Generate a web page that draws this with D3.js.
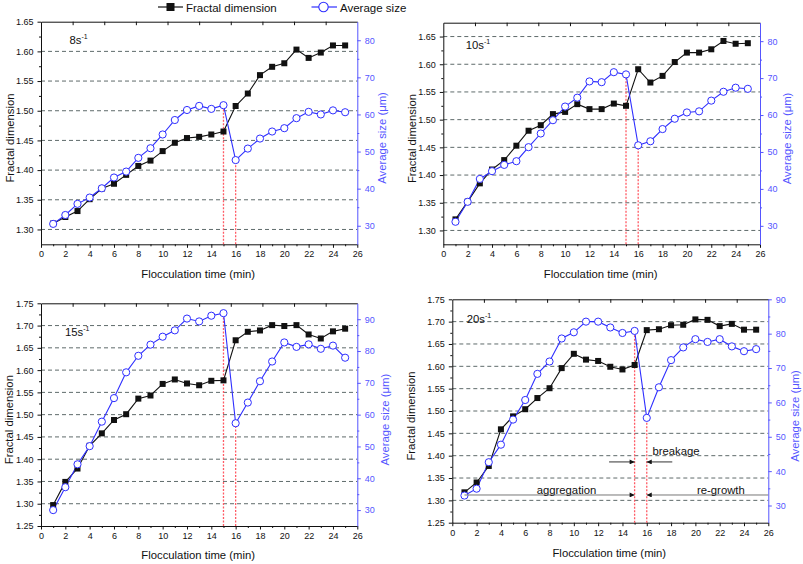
<!DOCTYPE html>
<html><head><meta charset="utf-8">
<script src="https://cdn.jsdelivr.net/npm/d3@7"></script>
<style>
body{margin:0;background:#fff;}
svg text{font-family:"Liberation Sans",Arial,sans-serif;}
</style></head>
<body><svg id="c" width="803" height="564"></svg>
<script>
// ---- data ----
const time = d3.range(1, 26);
const fd8   = [1.310,1.321,1.331,1.351,1.369,1.377,1.392,1.407,1.416,1.432,1.446,1.454,1.456,1.460,1.465,1.508,1.529,1.560,1.574,1.580,1.603,1.589,1.598,1.610,1.610];
const size8 = [30.5,32.9,35.9,37.6,40.1,43.0,44.6,48.3,50.9,54.6,58.5,61.2,62.3,61.5,62.5,47.7,50.8,53.5,55.4,56.3,59.0,60.7,60.0,61.1,60.6];
const fd10   = [1.320,1.352,1.385,1.410,1.427,1.453,1.480,1.490,1.510,1.514,1.528,1.519,1.519,1.529,1.525,1.591,1.567,1.579,1.604,1.621,1.621,1.627,1.642,1.637,1.638];
const size10 = [31.1,36.5,42.7,44.8,46.5,47.5,51.3,55.0,58.6,62.3,64.7,69.1,68.9,71.6,71.0,51.8,52.9,56.2,59.0,60.7,61.0,63.9,66.3,67.4,67.1];
const fd15   = [1.297,1.349,1.379,1.430,1.458,1.488,1.501,1.536,1.543,1.569,1.579,1.570,1.566,1.576,1.577,1.667,1.686,1.689,1.701,1.699,1.701,1.680,1.671,1.687,1.693];
const size15 = [30.0,37.2,44.4,50.1,57.8,65.2,73.3,78.5,82.0,84.5,86.5,90.2,89.3,91.1,91.9,57.3,63.8,70.5,76.7,82.7,81.3,82.1,80.7,81.7,77.9];
const fd20   = [1.318,1.340,1.377,1.459,1.488,1.504,1.529,1.551,1.596,1.628,1.615,1.612,1.599,1.593,1.603,1.681,1.683,1.692,1.693,1.705,1.704,1.690,1.695,1.682,1.682];
const size20 = [32.9,34.9,42.6,47.7,55.0,60.7,68.3,71.9,78.6,80.4,83.5,83.5,81.8,80.2,80.8,55.5,64.4,72.3,76.0,78.4,77.6,78.4,76.3,74.9,75.5];
const shearLabels = ["8", "10", "15", "20"];
const xTicks = [0,2,4,6,8,10,12,14,16,18,20,22,24,26];
const fdTicksA = [1.30,1.35,1.40,1.45,1.50,1.55,1.60,1.65];
const fdTicksB = [1.25,1.30,1.35,1.40,1.45,1.50,1.55,1.60,1.65,1.70,1.75];
const sizeTicksA = [30,40,50,60,70,80];
const sizeTicksB = [30,40,50,60,70,80,90];
const breakTimes = [15, 16];
const legendLabels = ["Fractal dimension", "Average size"];
const xTitle = "Flocculation time (min)";
const yTitleL = "Fractal dimension";
const yTitleR = "Average size (\u03bcm)";

// ---- layout ----
const BLUE = "#2e2eff", AXBLUE = "#5555ff", GRID = "#5f6b6b", RED = "#ff5a64";
const panels = [
  {fd: fd8, sz: size8, lab: shearLabels[0], l: 41, r: 357.3, t: 21.7, b: 244.3, yl: [1.275,1.65], yr: [25,85], lt: fdTicksA, rt: sizeTicksA,
   labPos: [69.5, 44], ltx: 13.5, rtx: 386, xty: 278},
  {fd: fd10, sz: size10, lab: shearLabels[1], l: 443.3, r: 760, t: 22.7, b: 244.3, yl: [1.275,1.675], yr: [25,85], lt: fdTicksA, rt: sizeTicksA,
   labPos: [465.7, 49], ltx: 415.5, rtx: 791, xty: 278},
  {fd: fd15, sz: size15, lab: shearLabels[2], l: 41, r: 357.3, t: 303.3, b: 526, yl: [1.25,1.75], yr: [25,95], lt: fdTicksB, rt: sizeTicksB,
   labPos: [65, 336], ltx: 12.5, rtx: 389, xty: 558.5},
  {fd: fd20, sz: size20, lab: shearLabels[3], l: 452.3, r: 768.3, t: 299.3, b: 522.7, yl: [1.25,1.75], yr: [25,90], lt: fdTicksB, rt: sizeTicksB,
   labPos: [466.7, 323], ltx: 414.5, rtx: 799, xty: 556.5, annot: true}
];

const svg = d3.select("#c");
const defs = svg.append("defs");
defs.append("marker").attr("id","ah").attr("viewBox","0 0 10 10").attr("refX",10).attr("refY",5)
  .attr("markerWidth",7).attr("markerHeight",5).attr("orient","auto-start-reverse").attr("markerUnits","userSpaceOnUse")
  .append("path").attr("d","M0,0L10,5L0,10Z").attr("fill","#111");

function mids(arr){ const m=[]; for(let i=0;i<arr.length-1;i++) m.push((arr[i]+arr[i+1])/2); return m; }

panels.forEach(p => {
  const x = d3.scaleLinear().domain([0,26]).range([p.l, p.r]);
  const yL = d3.scaleLinear().domain(p.yl).range([p.b, p.t]);
  const yR = d3.scaleLinear().domain(p.yr).range([p.b, p.t]);
  const g = svg.append("g");

  // gridlines
  const gridVals = p.lt.filter(v => v > p.yl[0] + 0.02 && yL(v) > p.t + 2);
  g.selectAll(".grid").data(gridVals).enter().append("line")
    .attr("x1", p.l).attr("x2", p.r).attr("y1", d => yL(d)).attr("y2", d => yL(d))
    .attr("stroke", GRID).attr("stroke-width", 1).attr("stroke-dasharray", "4,3");

  // axes
  const style = (sel, col) => { sel.selectAll("path,line").attr("stroke", col); sel.selectAll("text").attr("fill", col).attr("font-size", 9).attr("font-family", '"Liberation Sans",Arial,sans-serif'); };
  const gb = g.append("g").attr("transform", `translate(0,${p.b})`)
    .call(d3.axisBottom(x).tickValues(xTicks).tickFormat(d3.format("d")).tickSize(3.5).tickSizeOuter(0).tickPadding(3));
  style(gb, "#111");
  g.append("g").attr("transform", `translate(0,${p.b})`)
    .call(d3.axisBottom(x).tickValues(mids(xTicks)).tickFormat("").tickSize(2).tickSizeOuter(0))
    .call(s => { s.select(".domain").remove(); s.selectAll("line").attr("stroke","#111"); });
  const topTicks = d3.range(1,10).map(i => i*2.6);
  g.append("g").attr("transform", `translate(0,${p.t})`)
    .call(d3.axisTop(x).tickValues(topTicks).tickFormat("").tickSize(-3.5).tickSizeOuter(0))
    .call(s => style(s, "#111"));
  const gl = g.append("g").attr("transform", `translate(${p.l},0)`)
    .call(d3.axisLeft(yL).tickValues(p.lt).tickFormat(d3.format(".2f")).tickSize(3.5).tickSizeOuter(0).tickPadding(4));
  style(gl, "#111");
  g.append("g").attr("transform", `translate(${p.l},0)`)
    .call(d3.axisLeft(yL).tickValues(mids(p.lt)).tickFormat("").tickSize(2).tickSizeOuter(0))
    .call(s => { s.select(".domain").remove(); s.selectAll("line").attr("stroke","#111"); });
  const gr = g.append("g").attr("transform", `translate(${p.r},0)`)
    .call(d3.axisRight(yR).tickValues(p.rt).tickFormat(d3.format("d")).tickSize(3.5).tickSizeOuter(0).tickPadding(4));
  style(gr, AXBLUE);
  g.append("g").attr("transform", `translate(${p.r},0)`)
    .call(d3.axisRight(yR).tickValues(mids(p.rt)).tickFormat("").tickSize(2).tickSizeOuter(0))
    .call(s => { s.select(".domain").remove(); s.selectAll("line").attr("stroke",AXBLUE); });

  // breakage red dotted lines
  g.selectAll(".rl").data(breakTimes).enter().append("line")
    .attr("x1", d => x(d)).attr("x2", d => x(d)).attr("y1", p.b)
    .attr("y2", d => yR(p.sz[time.indexOf(d)]))
    .attr("stroke", RED).attr("stroke-width", 1.3).attr("stroke-dasharray", "2,1.5");

  // series
  const lineB = d3.line().x((d,i) => x(time[i])).y(d => yL(d));
  const lineR = d3.line().x((d,i) => x(time[i])).y(d => yR(d));
  g.append("path").datum(p.fd).attr("d", lineB).attr("fill","none").attr("stroke","#111").attr("stroke-width",1.1);
  g.append("path").datum(p.sz).attr("d", lineR).attr("fill","none").attr("stroke",BLUE).attr("stroke-width",1.1);
  g.selectAll(".sq").data(p.fd).enter().append("rect")
    .attr("x",(d,i)=>x(time[i])-3).attr("y",d=>yL(d)-3).attr("width",6).attr("height",6).attr("fill","#111");
  g.selectAll(".ci").data(p.sz).enter().append("circle")
    .attr("cx",(d,i)=>x(time[i])).attr("cy",d=>yR(d)).attr("r",3.6).attr("fill","#fff").attr("stroke",BLUE).attr("stroke-width",1);

  // titles
  g.append("text").attr("x",(p.l+p.r)/2 - 1).attr("y",p.xty).attr("text-anchor","middle").attr("font-size",11.3).attr("fill","#111").text(xTitle);
  const cy = (p.t+p.b)/2 + 5;
  g.append("text").attr("transform",`translate(${p.ltx},${cy}) rotate(-90)`).attr("text-anchor","middle").attr("font-size",11.3).attr("fill","#111").text(yTitleL);
  g.append("text").attr("transform",`translate(${p.rtx},${cy}) rotate(-90)`).attr("text-anchor","middle").attr("font-size",11.3).attr("fill",AXBLUE).text(yTitleR);
  const lt = g.append("text").attr("x",p.labPos[0]).attr("y",p.labPos[1]).attr("font-size",11.3).attr("fill","#111");
  lt.append("tspan").text(p.lab + "s");
  lt.append("tspan").attr("dy",-5).attr("font-size",7).text("-1");

  if (p.annot) {
    const ya = yL(1.312), yb = yL(1.386);
    const arr = (x1,x2,y,col) => g.append("line").attr("x1",x1).attr("x2",x2).attr("y1",y).attr("y2",y)
      .attr("stroke",col).attr("stroke-width",1).attr("marker-end","url(#ah)");
    arr(x(1), x(15), ya, "#777");
    arr(x(26), x(16), ya, "#777");
    arr(x(12.9), x(15), yb, "#333");
    arr(x(18.1), x(16), yb, "#333");
    g.append("text").attr("x",x(9.4)).attr("y",yL(1.318)+2).attr("text-anchor","middle").attr("font-size",11.3).attr("fill","#111").text("aggregation");
    g.append("text").attr("x",x(22.1)).attr("y",yL(1.318)+2).attr("text-anchor","middle").attr("font-size",11.3).attr("fill","#111").text("re-growth");
    g.append("text").attr("x",x(18.4)).attr("y",yL(1.405)+2).attr("text-anchor","middle").attr("font-size",11.3).attr("fill","#111").text("breakage");
  }
});

// legend
const lg = svg.append("g");
lg.append("line").attr("x1",158).attr("x2",183).attr("y1",7).attr("y2",7).attr("stroke","#111").attr("stroke-width",1.2);
lg.append("rect").attr("x",166.5).attr("y",3).attr("width",8).attr("height",8).attr("fill","#111");
lg.append("text").attr("x",186).attr("y",11.5).attr("font-size",11.5).attr("fill","#111").text(legendLabels[0]);
lg.append("line").attr("x1",311.5).attr("x2",337).attr("y1",7).attr("y2",7).attr("stroke",BLUE).attr("stroke-width",1.2);
lg.append("circle").attr("cx",323.5).attr("cy",7).attr("r",4.7).attr("fill","#fff").attr("stroke",BLUE).attr("stroke-width",1.1);
lg.append("text").attr("x",340).attr("y",11.5).attr("font-size",11.5).attr("fill","#111").text(legendLabels[1]);
</script></body></html>
